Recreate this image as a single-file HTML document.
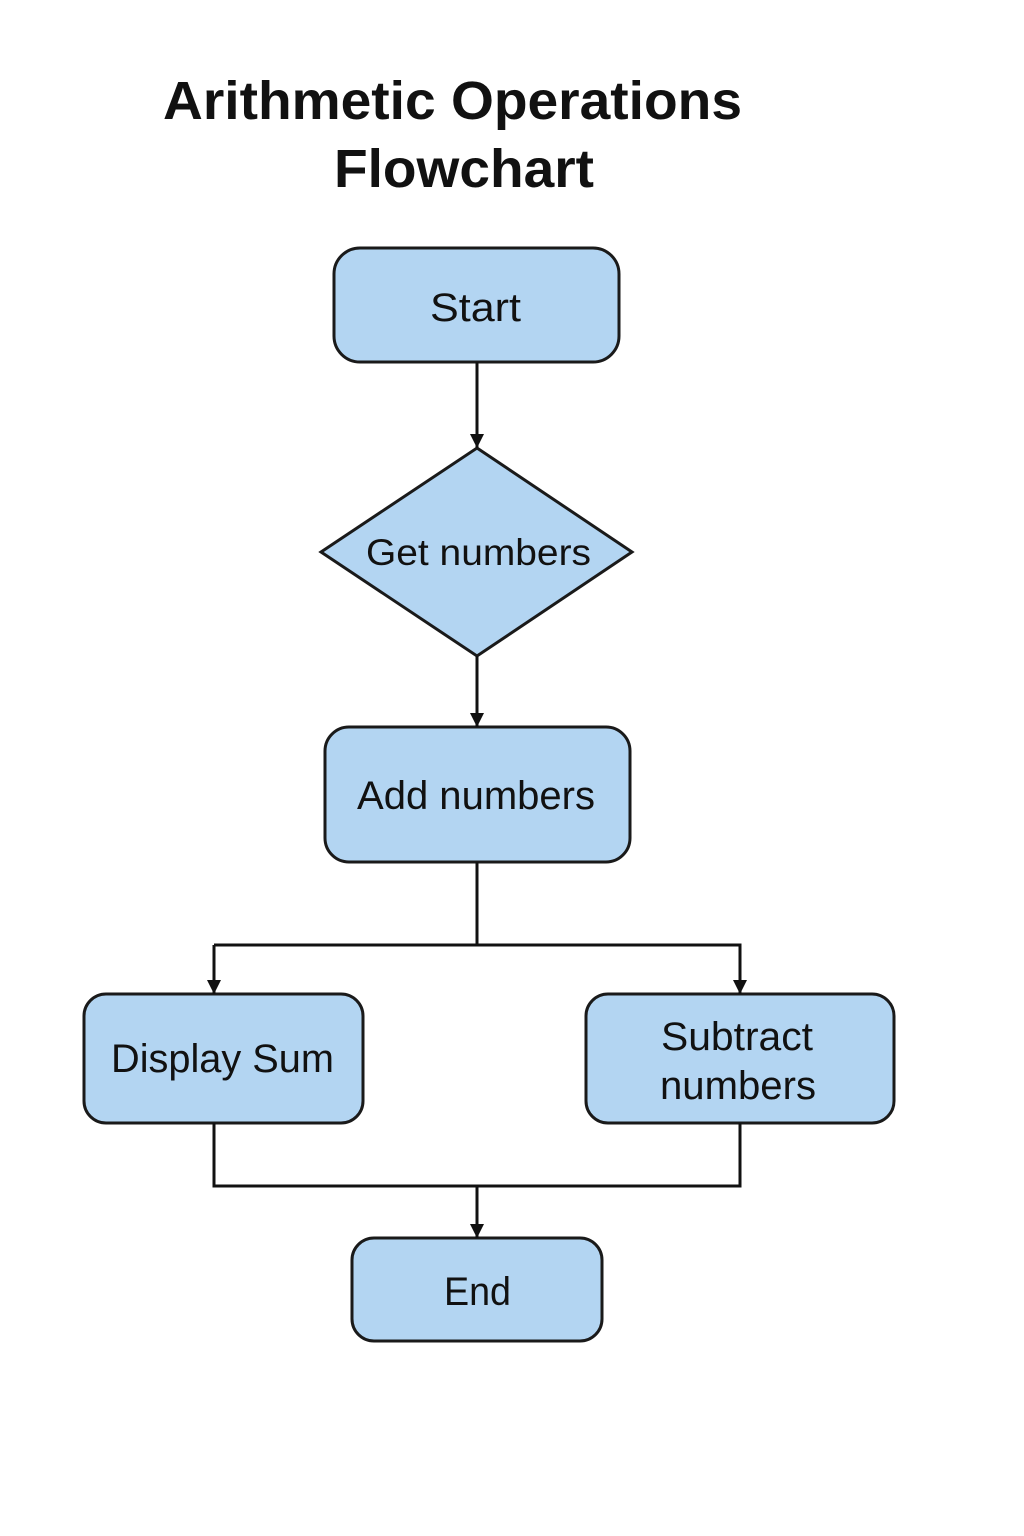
<!DOCTYPE html>
<html><head><meta charset="utf-8"><style>
html,body{margin:0;padding:0;background:#fff;width:1024px;height:1536px;overflow:hidden}
svg{display:block}
text{font-family:"Liberation Sans",sans-serif;fill:#111}
</style></head><body>
<svg width="1024" height="1536" viewBox="0 0 1024 1536">
<defs><marker id="a" markerWidth="16" markerHeight="16" refX="14" refY="7" orient="auto" markerUnits="userSpaceOnUse" viewBox="0 0 16 14"><path d="M0,0 L14,7 L0,14 z" fill="#111"/></marker></defs>
<text x="163" y="119" font-size="54" font-weight="bold" textLength="579" lengthAdjust="spacingAndGlyphs">Arithmetic Operations</text>
<text x="334" y="187" font-size="54" font-weight="bold" textLength="260" lengthAdjust="spacingAndGlyphs">Flowchart</text>
<g fill="#b3d5f2" stroke="#1a1a1a" stroke-width="3">
<rect x="334" y="248" width="285" height="114" rx="26"/>
<polygon points="477,448 632,552 477,656 321,552"/>
<rect x="325" y="727" width="305" height="135" rx="24"/>
<rect x="84" y="994" width="279" height="129" rx="22"/>
<rect x="586" y="994" width="308" height="129" rx="22"/>
<rect x="352" y="1238" width="250" height="103" rx="22"/>
</g>
<g stroke="#111" stroke-width="3" fill="none">
<line x1="477" y1="362" x2="477" y2="448" marker-end="url(#a)"/>
<line x1="477" y1="656" x2="477" y2="727" marker-end="url(#a)"/>
<polyline points="477,862 477,945"/>
<polyline points="214,945 740,945 740,994" marker-end="url(#a)"/>
<line x1="214" y1="945" x2="214" y2="994" marker-end="url(#a)"/>
<polyline points="214,1123 214,1186 740,1186 740,1123"/>
<line x1="477" y1="1186" x2="477" y2="1238" marker-end="url(#a)"/>
</g>
<g font-size="40">
<text x="430" y="321" textLength="91" lengthAdjust="spacingAndGlyphs">Start</text>
<text x="366" y="565" font-size="37" textLength="225" lengthAdjust="spacingAndGlyphs">Get numbers</text>
<text x="357" y="809" textLength="238" lengthAdjust="spacingAndGlyphs">Add numbers</text>
<text x="111" y="1072" textLength="223" lengthAdjust="spacingAndGlyphs">Display Sum</text>
<text x="661" y="1050" textLength="152" lengthAdjust="spacingAndGlyphs">Subtract</text>
<text x="660" y="1099" textLength="156" lengthAdjust="spacingAndGlyphs">numbers</text>
<text x="444" y="1305" textLength="67" lengthAdjust="spacingAndGlyphs">End</text>
</g>
</svg>
</body></html>
